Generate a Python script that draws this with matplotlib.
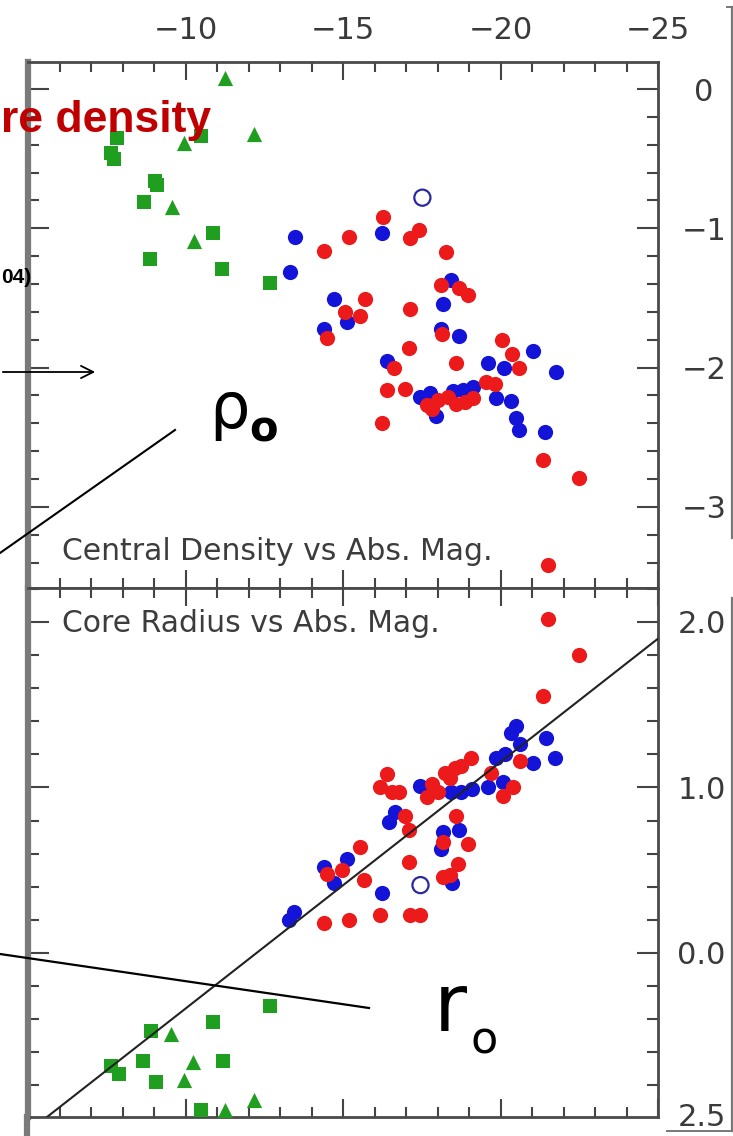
import numpy as np
import matplotlib
matplotlib.use("Agg")
import matplotlib.pyplot as plt
from matplotlib.lines import Line2D
from matplotlib.patches import FancyArrowPatch
from matplotlib.ticker import MultipleLocator

# ---------------------------------------------------------------- data
# Upper panel: log central density vs absolute magnitude
top_sq_mag = [-7.84, -7.65, -7.72, -10.50, -9.04, -9.10, -8.67, -10.88, -8.87, -11.17, -12.67]
top_sq_rho = [-0.35, -0.46, -0.50, -0.34, -0.66, -0.69, -0.81, -1.03, -1.22, -1.29, -1.39]
top_tri_mag = [-11.26, -12.16, -9.95, -9.57, -10.27]
top_tri_rho = [0.08, -0.32, -0.39, -0.85, -1.09]
top_blue_mag = [-13.47, -13.31, -14.71, -14.39, -15.13, -16.25, -18.42, -18.16, -18.10, -18.67,
                -21.04, -19.60, -20.11, -21.77, -16.41, -17.46, -17.75, -18.48, -18.80, -19.12,
                -17.94, -19.86, -20.34, -20.50, -20.59, -21.42]
top_blue_rho = [-1.06, -1.31, -1.51, -1.72, -1.67, -1.03, -1.37, -1.54, -1.72, -1.77,
                -1.88, -1.97, -2.00, -2.03, -1.95, -2.21, -2.18, -2.17, -2.16, -2.14,
                -2.35, -2.22, -2.24, -2.36, -2.45, -2.46]
top_red_mag = [-14.39, -15.19, -15.70, -15.07, -15.55, -14.49, -16.28, -17.40, -17.14, -18.26,
               -18.10, -18.67, -18.96, -17.14, -18.13, -17.08, -20.05, -20.37, -20.59, -18.58,
               -16.63, -16.41, -16.98, -19.54, -19.82, -17.68, -18.00, -18.32, -18.58, -18.87,
               -19.12, -17.84, -16.25, -21.36, -22.48, -21.52]
top_red_rho = [-1.16, -1.06, -1.51, -1.60, -1.63, -1.79, -0.92, -1.01, -1.07, -1.17,
               -1.41, -1.43, -1.48, -1.58, -1.76, -1.86, -1.80, -1.90, -2.00, -1.97,
               -2.00, -2.16, -2.15, -2.10, -2.12, -2.27, -2.23, -2.21, -2.26, -2.25,
               -2.22, -2.30, -2.40, -2.66, -2.79, -3.42]
top_open_mag = [-17.52]
top_open_rho = [-0.78]

# Lower panel: log core radius vs absolute magnitude
bot_sq_mag = [-12.67, -10.88, -8.90, -11.20, -8.64, -7.62, -7.88, -9.06, -10.50]
bot_sq_r = [-0.32, -0.42, -0.47, -0.65, -0.65, -0.68, -0.73, -0.78, -0.95]
bot_tri_mag = [-9.54, -10.24, -9.95, -11.26, -12.16]
bot_tri_r = [-0.49, -0.66, -0.77, -0.95, -0.89]
bot_blue_mag = [-20.50, -20.34, -20.62, -21.45, -21.74, -21.04, -19.86, -20.14, -17.46, -18.42,
                -18.74, -19.09, -19.60, -20.08, -16.66, -16.47, -18.16, -18.67, -18.10, -15.13,
                -14.39, -14.71, -16.25, -18.45, -13.43, -13.28]
bot_blue_r = [1.37, 1.33, 1.26, 1.30, 1.18, 1.15, 1.18, 1.20, 1.01, 0.97,
              0.97, 0.99, 1.00, 1.03, 0.85, 0.79, 0.73, 0.74, 0.63, 0.57,
              0.52, 0.42, 0.36, 0.42, 0.25, 0.20]
bot_red_mag = [-21.52, -22.48, -21.36, -19.06, -20.62, -19.70, -16.41, -16.18, -16.57, -16.79,
               -18.23, -18.55, -18.74, -18.39, -17.84, -17.68, -18.00, -20.08, -20.40, -16.98,
               -17.11, -18.58, -18.16, -18.96, -18.64, -18.16, -18.39, -15.54, -14.97, -14.49,
               -15.67, -17.11, -16.18, -14.39, -15.19, -17.14, -17.43]
bot_red_r = [2.02, 1.80, 1.55, 1.18, 1.16, 1.09, 1.08, 1.00, 0.97, 0.97,
             1.09, 1.12, 1.13, 1.06, 1.02, 0.94, 0.97, 0.95, 1.00, 0.83,
             0.74, 0.83, 0.67, 0.66, 0.54, 0.46, 0.47, 0.64, 0.50, 0.48,
             0.44, 0.55, 0.23, 0.18, 0.20, 0.23, 0.23]
bot_open_mag = [-17.46]
bot_open_r = [0.41]

# linear fit log r0 = a + b * M
fit_intercept = -1.826
fit_slope = -0.149

x_major_ticks = [-10, -15, -20, -25]
x_major_labels = ["\u221210", "\u221215", "\u221220", "\u221225"]
top_y_ticks = [0, -1, -2, -3]
top_y_labels = ["0", "\u22121", "\u22122", "\u22123"]
bot_y_ticks = [2, 1, 0]
bot_y_labels = ["2.0", "1.0", "0.0"]

# ---------------------------------------------------------------- figure
W, H = 733, 1136
fig = plt.figure(figsize=(W / 100, H / 100), dpi=100)
fig.patch.set_facecolor("white")


def fx(px):
    return px / W


def fy(py):
    return 1 - py / H


L, R = 28, 658
ax_top = fig.add_axes([fx(L), fy(588), fx(R) - fx(L), fy(62) - fy(588)])
ax_bot = fig.add_axes([fx(L), fy(1117), fx(R) - fx(L), fy(588) - fy(1117)])

RED = "#ec1a1a"
BLUE = "#1414d8"
GREEN = "#1f9e1f"
TICKC = "#444444"
LABC = "#3a3a3a"
LABFONT = "DejaVu Sans"
LABSIZE = 22

for ax in (ax_top, ax_bot):
    ax.set_facecolor("white")
    ax.set_xlim(-5, -25)
    ax.xaxis.set_major_locator(MultipleLocator(5))
    ax.xaxis.set_minor_locator(MultipleLocator(1))
    ax.yaxis.set_minor_locator(MultipleLocator(0.2))
    ax.tick_params(axis="both", which="both", direction="in", top=True, bottom=True,
                   left=True, right=True, color=TICKC, labelcolor=LABC)
    ax.tick_params(axis="x", which="major", length=13, width=1.5)
    ax.tick_params(axis="x", which="minor", length=7, width=1.5)
    ax.tick_params(axis="y", which="major", length=15, width=1.5)
    ax.tick_params(axis="y", which="minor", length=8, width=1.5)
    for s in ax.spines.values():
        s.set_color("#4a4a4a")
        s.set_linewidth(2.0)
    ax.spines["left"].set_color("#7a7a7a")
    ax.spines["left"].set_linewidth(4.5)

# ---- upper panel
ax_top.set_ylim(-3.582, 0.194)
ax_top.set_xticks(x_major_ticks)
ax_top.set_xticklabels(x_major_labels, fontsize=LABSIZE, family=LABFONT)
ax_top.set_yticks(top_y_ticks)
ax_top.set_yticklabels(top_y_labels, fontsize=LABSIZE, family=LABFONT)
ax_top.tick_params(axis="x", labelbottom=False, labeltop=True, pad=12)
ax_top.tick_params(axis="y", labelleft=False, labelright=True, pad=33)
plt.setp(ax_top.get_yticklabels(), ha="center")

ax_top.scatter(top_sq_mag, top_sq_rho, marker="s", s=88, color=GREEN, linewidths=0, zorder=3)
ax_top.scatter(top_tri_mag, top_tri_rho, marker="^", s=120, color=GREEN, linewidths=0, zorder=3)
ax_top.scatter(top_blue_mag, top_blue_rho, marker="o", s=120, color=BLUE, linewidths=0, zorder=3)
ax_top.scatter(top_red_mag, top_red_rho, marker="o", s=120, color=RED, linewidths=0, zorder=4)
ax_top.scatter(top_open_mag, top_open_rho, marker="o", s=135, facecolors="none",
               edgecolors="#2a2a9c", linewidths=1.6, zorder=4)
ax_top.text(0.054, 0.07, "Central Density vs Abs. Mag.", transform=ax_top.transAxes,
            fontsize=21.5, color="#3c3c3c", ha="left", va="center", family="DejaVu Sans")

# ---- lower panel
ax_bot.set_ylim(-0.991, 2.205)
ax_bot.set_xticks(x_major_ticks)
ax_bot.set_yticks(bot_y_ticks)
ax_bot.set_yticklabels(bot_y_labels, fontsize=LABSIZE, family=LABFONT)
ax_bot.tick_params(axis="x", labelbottom=False, labeltop=False)
ax_bot.tick_params(axis="y", labelleft=False, labelright=True, pad=14)

ax_bot.scatter(bot_sq_mag, bot_sq_r, marker="s", s=88, color=GREEN, linewidths=0, zorder=3)
ax_bot.scatter(bot_tri_mag, bot_tri_r, marker="^", s=120, color=GREEN, linewidths=0, zorder=3)
ax_bot.scatter(bot_blue_mag, bot_blue_r, marker="o", s=120, color=BLUE, linewidths=0, zorder=3)
ax_bot.scatter(bot_red_mag, bot_red_r, marker="o", s=120, color=RED, linewidths=0, zorder=4)
ax_bot.scatter(bot_open_mag, bot_open_r, marker="o", s=135, facecolors="none",
               edgecolors="#2a2a9c", linewidths=1.6, zorder=4)
fit_x = np.array([-5.0, -25.0])
ax_bot.plot(fit_x, fit_intercept + fit_slope * fit_x, color="#222222", lw=1.5, zorder=5)
ax_bot.text(0.054, 0.932, "Core Radius vs Abs. Mag.", transform=ax_bot.transAxes,
            fontsize=21.5, color="#3c3c3c", ha="left", va="center", family="DejaVu Sans")

# ---------------------------------------------------------------- slide overlays
fig.text(fx(678), fy(1117), "2.5", fontsize=LABSIZE, family=LABFONT, color=LABC,
         ha="left", va="center")


def fig_line(xs, ys, **kw):
    fig.add_artist(Line2D([fx(x) for x in xs], [fy(y) for y in ys],
                          transform=fig.transFigure, **kw))


# frame pieces along the right edge
fig_line([732, 732], [7, 538], color="#777777", lw=1.6)
fig_line([727, 733], [7, 7], color="#777777", lw=1.4)
fig_line([732, 732], [598, 1131], color="#777777", lw=1.6)
fig_line([667, 733], [1131, 1131], color="#777777", lw=1.4)
fig_line([27, 27], [1117, 1136], color="#7a7a7a", lw=4.5)

fig.text(fx(1), fy(132), "re density", fontsize=32, fontweight="bold",
         color="#c00000", family="Liberation Sans", ha="left", va="baseline", zorder=10)
fig.text(fx(1), fy(283), "04)", fontsize=15, fontweight="bold",
         color="black", family="Liberation Sans", ha="left", va="baseline", zorder=10)

fig.add_artist(FancyArrowPatch(
    (fx(0), fy(372)), (fx(98), fy(372)), transform=fig.transFigure,
    arrowstyle="->", mutation_scale=22, lw=1.3, color="black", zorder=10))

# rho_0 label with its leader line
fig.text(fx(209), fy(428), "\u03c1", fontsize=46, color="black",
         family="DejaVu Sans", ha="left", va="baseline", zorder=10)
fig.text(fx(249), fy(441), "o", fontsize=30, fontweight="bold", color="black",
         family="DejaVu Sans", ha="left", va="baseline", zorder=10)
fig_line([175, 0], [430, 553], color="black", lw=1.5, zorder=10)

# r_0 label with its leader line
fig.text(fx(434), fy(1031), "r", fontsize=58, color="black",
         family="DejaVu Sans", ha="left", va="baseline", zorder=10)
fig.text(fx(471), fy(1053), "o", fontsize=32, color="black",
         family="DejaVu Sans", ha="left", va="baseline", zorder=10)
fig_line([369, 0], [1008, 954], color="black", lw=1.6, zorder=10)

fig.savefig("out.png", dpi=100, facecolor="white")
